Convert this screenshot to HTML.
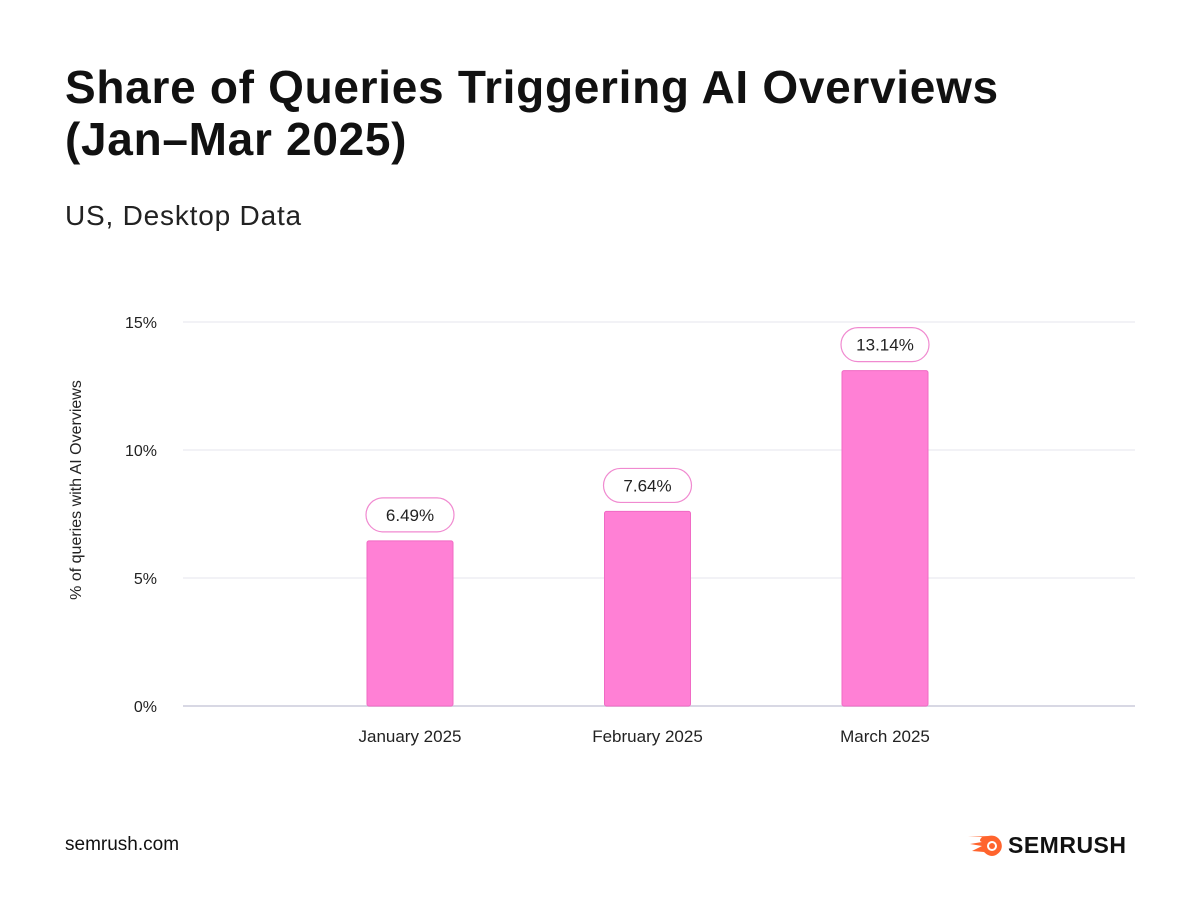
<!DOCTYPE html>
<html><head><meta charset="utf-8"><style>
body{margin:0;background:#fff;font-family:"Liberation Sans",sans-serif;}
#wrap{position:relative;width:1200px;height:901px;overflow:hidden;}
h1{position:absolute;left:65px;top:61px;margin:0;font-size:46px;line-height:52px;font-weight:bold;color:#111;letter-spacing:0.7px;}
.sub{position:absolute;left:65px;top:200px;font-size:28px;color:#222;letter-spacing:0.8px;}
.foot{position:absolute;left:65px;top:834px;font-size:19px;color:#111;}
</style></head><body>
<div id="wrap">
<h1>Share of Queries Triggering AI Overviews<br>(Jan–Mar 2025)</h1>
<div class="sub">US, Desktop Data</div>
<svg id="chart" width="1200" height="901" style="position:absolute;left:0;top:0"></svg>
<div class="foot">semrush.com</div>
<div style="position:absolute;left:968px;top:832px;display:flex;align-items:center;">
<svg width="36" height="26" viewBox="0 0 36 26"><path d="M0 4 L14 4 Q10 8 14 9 L2 11 L14 13 L4 18 L16 19 Q22 25 28 22 Q36 17 33 9 Q29 1 20 3 Z" fill="#ff642d"/><circle cx="24" cy="13" r="5" fill="#fff"/><circle cx="24" cy="13" r="3" fill="#ff642d"/></svg>
<span style="font-size:23px;font-weight:bold;color:#111;margin-left:4px;letter-spacing:0.5px">SEMRUSH</span></div>
</div>
<script>
const categories=["January 2025","February 2025","March 2025"];
const values=[6.49,7.64,13.14];
const ticks=[0,5,10,15];
const tickLabels=["0%","5%","10%","15%"];
const NS="http://www.w3.org/2000/svg";
const svg=document.getElementById('chart');
const y0=706,pxPer=25.6;
const y=v=>y0-v*pxPer;
const x=i=>410+i*237.5;
function mk(t,a,txt){const e=document.createElementNS(NS,t);for(const k in a)e.setAttribute(k,a[k]);if(txt!==undefined)e.textContent=txt;svg.appendChild(e);return e;}
ticks.forEach((t,i)=>{
 const l=mk('line',{x1:183,x2:1135,y1:y(t),y2:y(t),stroke:t===0?'#d8d8e4':'#e4e4ee','stroke-width':t===0?2:1});
 
 
 const tx=mk('text',{x:157,y:y(t)+6,'text-anchor':'end','font-size':16,fill:'#222','font-family':'Liberation Sans'},tickLabels[i]);
 
 
});
const yt=mk('text',{x:0,y:0,transform:'translate(81,490) rotate(-90)','text-anchor':'middle','font-size':16,fill:'#222','font-family':'Liberation Sans'},'% of queries with AI Overviews');


values.forEach((v,i)=>{
 const cx=x(i);
 const b=mk('rect',{x:cx-43,y:y(v)+1,width:86,height:y0-y(v)-1,rx:2,fill:'#ff80d5',stroke:'#f06ac4','stroke-width':1});
 
 
 const p=mk('rect',{x:cx-44,y:y(v)-42,width:88,height:34,rx:17,fill:'#fff',stroke:'#f08ad0','stroke-width':1.2});
 
 
 const vt=mk('text',{x:cx,y:y(v)-19,'text-anchor':'middle','font-size':17,fill:'#222','font-family':'Liberation Sans'},v.toFixed(2)+'%');
 
 
 const ct=mk('text',{x:cx,y:742,'text-anchor':'middle','font-size':17,fill:'#222','font-family':'Liberation Sans'},categories[i]);
 
 
});
</script>
</body></html>
